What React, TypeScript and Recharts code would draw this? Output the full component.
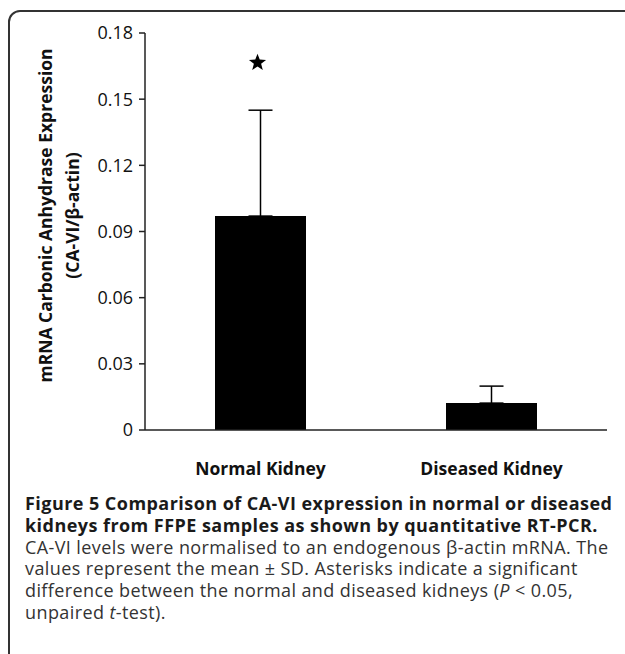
import React from "react";
import { ComposedChart, Bar, XAxis, YAxis, ErrorBar, Scatter } from "recharts";

const categories = ["Normal Kidney", "Diseased Kidney"];
const meanValues = [0.097, 0.0122];
const sdValues = [0.048, 0.0077];
const significance = [0.167, null];
const yTicks = [0, 0.03, 0.06, 0.09, 0.12, 0.15, 0.18];
const yTickLabels = ["0", "0.03", "0.06", "0.09", "0.12", "0.15", "0.18"];

const data = categories.map((c, i) => ({
  name: c,
  value: meanValues[i],
  err: [0, sdValues[i]],
  star: significance[i],
}));

const chartFont = "'Open Sans', sans-serif";

const StarShape = (props: any) => {
  const { cx, cy } = props;
  if (cx == null || cy == null || props.payload?.star == null) return null;
  const outer = 9;
  const inner = 3.8;
  const pts: string[] = [];
  for (let i = 0; i < 10; i++) {
    const r = i % 2 === 0 ? outer : inner;
    const a = -Math.PI / 2 + (i * Math.PI) / 5;
    pts.push(`${cx - 3 + r * Math.cos(a)},${cy + 1 + r * Math.sin(a)}`);
  }
  return <polygon points={pts.join(" ")} fill="#000" />;
};

const YLabel = (props: any) => {
  const vb = props.viewBox || {};
  const cy = (vb.y ?? 33) + (vb.height ?? 397) / 2 - 16;
  return (
    <g>
      <text
        x={45}
        y={cy}
        transform={`rotate(-90, 45, ${cy})`}
        textAnchor="middle"
        dominantBaseline="central"
        fontFamily={chartFont}
        fontWeight={700}
        fontSize={17.5}
        fill="#111"
      >
        mRNA Carbonic Anhydrase Expression
      </text>
      <text
        x={72}
        y={cy}
        transform={`rotate(-90, 72, ${cy})`}
        textAnchor="middle"
        dominantBaseline="central"
        fontFamily={chartFont}
        fontWeight={700}
        fontSize={17.5}
        fill="#111"
      >
        (CA-VI/β-actin)
      </text>
    </g>
  );
};

const captionLines = [
  { text: "Figure 5 Comparison of CA-VI expression in normal or diseased", bold: true },
  { text: "kidneys from FFPE samples as shown by quantitative RT-PCR.", bold: true },
  { text: "CA-VI levels were normalised to an endogenous β-actin mRNA. The", bold: false },
  { text: "values represent the mean ± SD. Asterisks indicate a significant", bold: false },
  { text: "difference between the normal and diseased kidneys (P < 0.05,", bold: false },
  { text: "unpaired t-test).", bold: false },
];

const renderCaptionText = (t: string) => {
  if (t.includes("(P <")) {
    const [a, b] = t.split("(P");
    return (
      <>
        {a}(<i>P</i>
        {b}
      </>
    );
  }
  if (t.includes("t-test")) {
    const [a, b] = t.split("t-test");
    return (
      <>
        {a}
        <i>t</i>-test{b}
      </>
    );
  }
  return t;
};

export default function App() {
  return (
    <div
      style={{
        position: "absolute",
        left: 0,
        top: 0,
        width: 625,
        height: 654,
        overflow: "hidden",
        background: "#fff",
      }}
    >
      <div
        style={{
          position: "absolute",
          left: 8,
          top: 10,
          width: 700,
          height: 700,
          border: "2px solid #333",
          borderTopLeftRadius: 12,
          boxSizing: "border-box",
        }}
      />
      <div style={{ position: "absolute", left: 0, top: 0 }}>
        <ComposedChart
          width={625}
          height={500}
          data={data}
          margin={{ top: 33, right: 18, left: 0, bottom: 30 }}
          barCategoryGap="30%"
        >
          <XAxis
            dataKey="name"
            height={40}
            tickLine={false}
            tickSize={0}
            tickMargin={33}
            axisLine={{ stroke: "#222", strokeWidth: 1.5 }}
            tick={{ fill: "#111", fontFamily: chartFont, fontWeight: 700, fontSize: 17.5 }}
          />
          <YAxis
            width={145}
            domain={[0, 0.18]}
            ticks={yTicks}
            interval={0}
            tickFormatter={(v: number) => yTickLabels[yTicks.indexOf(v)] ?? String(v)}
            tickSize={6}
            tickMargin={6}
            axisLine={{ stroke: "#222", strokeWidth: 1.5 }}
            tickLine={{ stroke: "#222", strokeWidth: 1.5 }}
            tick={{ fill: "#111", fontFamily: chartFont, fontSize: 18 }}
            label={<YLabel />}
          />
          <Bar dataKey="value" fill="#000" barSize={91} isAnimationActive={false}>
            <ErrorBar dataKey="err" width={12} stroke="#000" strokeWidth={1.5} direction="y" />
          </Bar>
          <Scatter dataKey="star" shape={<StarShape />} isAnimationActive={false} />
        </ComposedChart>
      </div>
      <div
        style={{
          position: "absolute",
          left: 25,
          top: 493,
          fontFamily: "'Open Sans', sans-serif",
          fontSize: 18,
          lineHeight: "21.8px",
          whiteSpace: "nowrap",
        }}
      >
        {captionLines.map((l, i) => (
          <div
            key={i}
            style={{
              color: l.bold ? "#1a1a1a" : "#333",
              fontWeight: l.bold ? 700 : 400,
              letterSpacing: l.bold ? 0.45 : 0.4,
            }}
          >
            {renderCaptionText(l.text)}
          </div>
        ))}
      </div>
    </div>
  );
}
